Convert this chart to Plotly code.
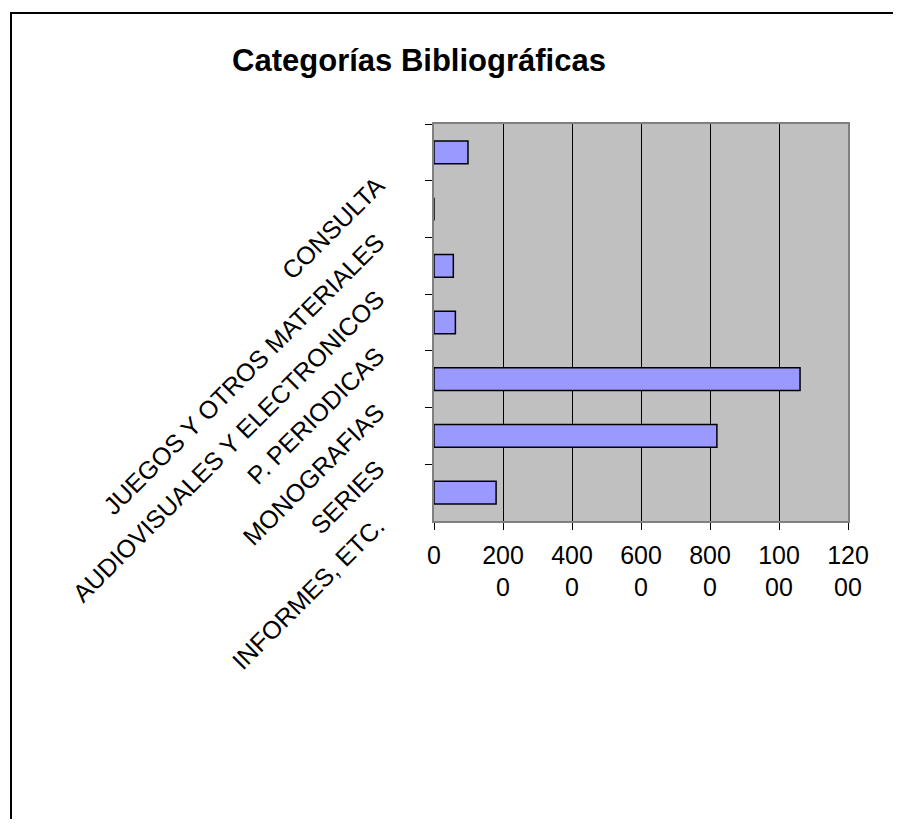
import plotly.graph_objects as go

# categories top to bottom
categories = [
    "CONSULTA",
    "JUEGOS Y OTROS MATERIALES",
    "AUDIOVISUALES Y ELECTRONICOS",
    "P. PERIODICAS",
    "MONOGRAFIAS",
    "SERIES",
    "INFORMES, ETC.",
]
counts = [985, 0, 560, 620, 10610, 8200, 1800]

x_ticks = [0, 2000, 4000, 6000, 8000, 10000, 12000]


def wrap_tick(v, width=3):
    # Excel wrapped the long numbers onto two lines
    s = str(v)
    return s if len(s) <= width else s[:width] + "<br>" + s[width:]


x_tick_text = [wrap_tick(v) for v in x_ticks]

FONT = "Liberation Sans, Arial, sans-serif"

fig = go.Figure(
    go.Bar(
        x=counts,
        y=categories,
        orientation="h",
        marker=dict(color="#9999FF", line=dict(color="#000000", width=1.5)),
        width=0.4,
    )
)

# page has an 8px body margin, so the figure is 16px smaller than the window
W, H = 885, 811
L, T = 426, 116
pw, ph = 414, 397
R, B = W - L - pw, H - T - ph

fig.update_layout(
    width=W,
    height=H,
    margin=dict(l=L, r=R, t=T, b=B),
    paper_bgcolor="white",
    plot_bgcolor="#C0C0C0",
    showlegend=False,
    font=dict(family=FONT, color="black", size=25),
    title=dict(
        text="<b>Categorías Bibliográficas</b>",
        x=411 / W,
        xanchor="center",
        y=1 - 52 / H,
        yanchor="middle",
        font=dict(size=31, family=FONT),
    ),
    xaxis=dict(
        range=[0, 12000],
        tickvals=x_ticks,
        ticktext=x_tick_text,
        showgrid=True,
        gridcolor="black",
        gridwidth=1,
        zeroline=False,
        showline=True,
        linecolor="#808080",
        linewidth=1.5,
        mirror=True,
        ticks="outside",
        ticklen=7,
        tickcolor="black",
        ticklabelstandoff=4,
        tickfont=dict(size=25),
        fixedrange=True,
    ),
    yaxis=dict(
        type="category",
        autorange="reversed",
        tickson="boundaries",
        ticks="outside",
        ticklen=7,
        tickcolor="black",
        showline=True,
        linecolor="#808080",
        linewidth=1.5,
        mirror=True,
        showgrid=False,
        tickangle=-45,
        ticklabelshift=-30,
        ticklabelstandoff=50,
        tickfont=dict(size=25),
    ),
    shapes=[
        # outer chart frame, runs off the right and bottom edges
        dict(
            type="rect",
            xref="paper",
            yref="paper",
            x0=(3 - L) / pw,
            x1=(W + 20 - L) / pw,
            y0=(H - B - (H + 20)) / ph,
            y1=(H - B - 5) / ph,
            line=dict(color="black", width=2),
            layer="below",
        )
    ],
)

fig.write_html("out.html")
